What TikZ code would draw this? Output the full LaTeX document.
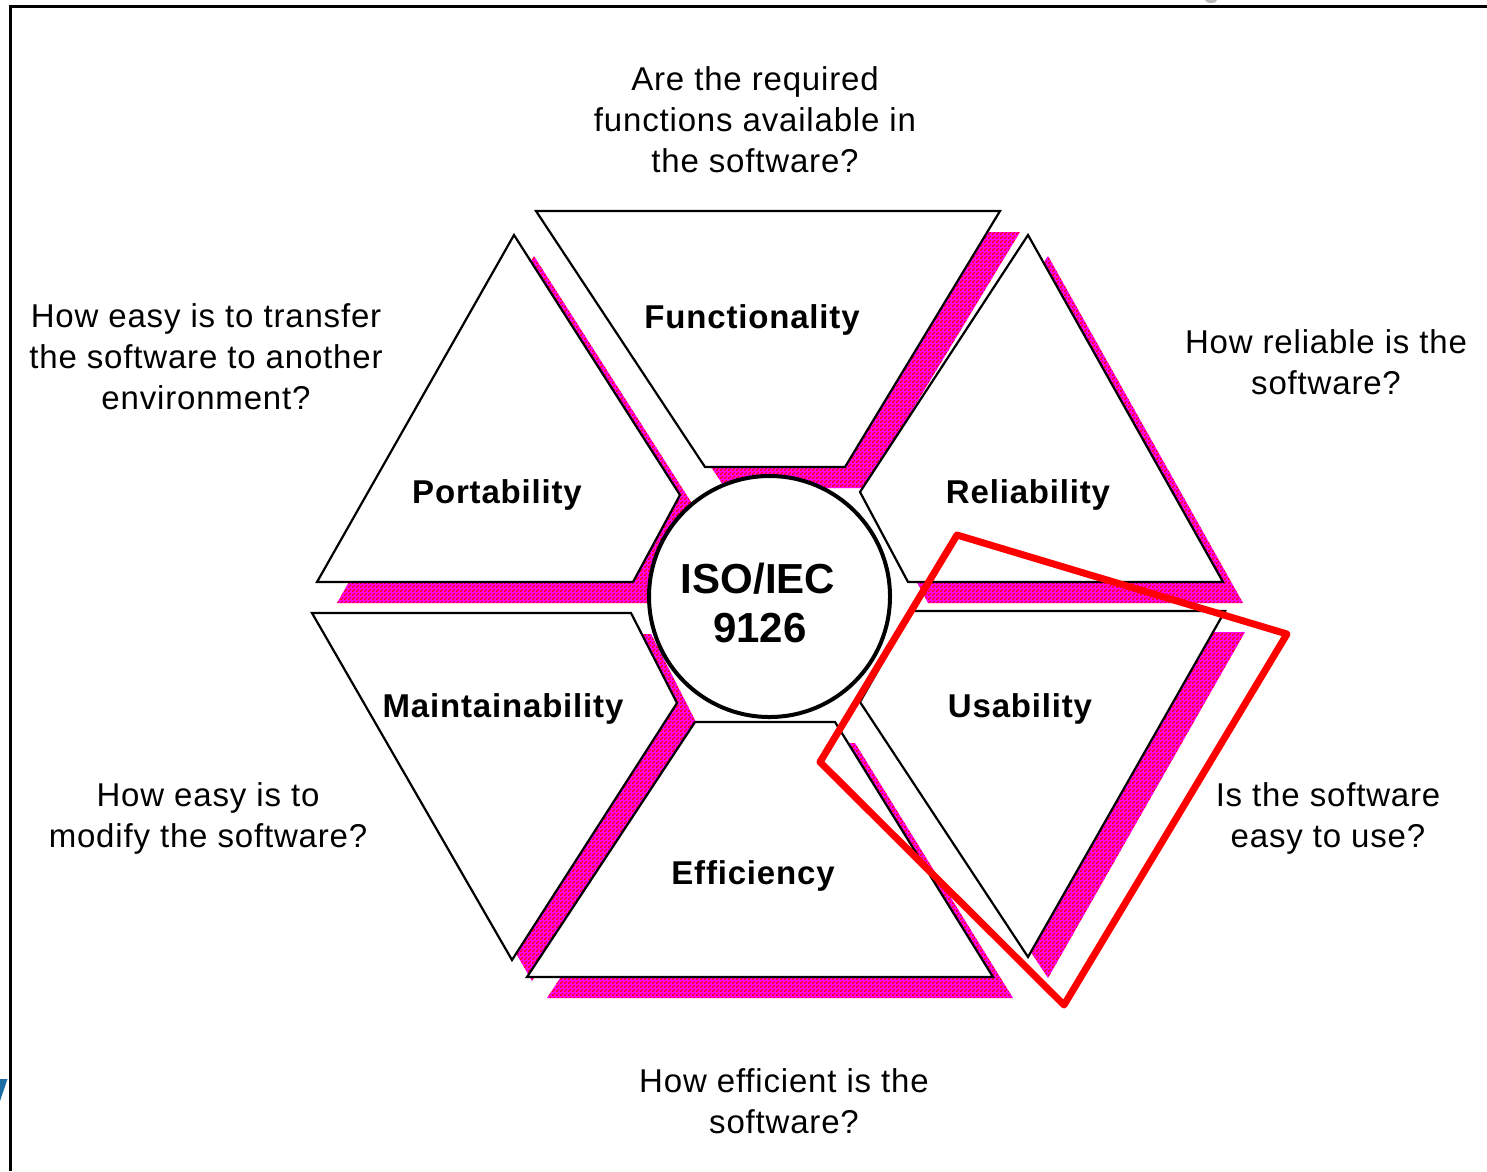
\documentclass[tikz,border=0pt]{standalone}
\usepackage{fontspec}
\setmainfont{Liberation Sans}
\usetikzlibrary{patterns}
\definecolor{shmag}{RGB}{255,0,255}
\definecolor{shred}{RGB}{255,0,0}
\definecolor{hlred}{RGB}{255,0,0}
\definecolor{logoblue}{RGB}{28,110,165}
\newcommand\hexpiece[2]{\path[#1] #2;}
\pgfdeclarepatternformonly{checkers}{\pgfpointorigin}{\pgfpoint{4pt}{4pt}}{\pgfpoint{4pt}{4pt}}{%
  \pgfpathrectangle{\pgfpoint{0pt}{0pt}}{\pgfpoint{2pt}{2pt}}%
  \pgfpathrectangle{\pgfpoint{2pt}{2pt}}{\pgfpoint{2pt}{2pt}}%
  \pgfusepath{fill}}
\begin{document}
\begin{tikzpicture}[x=1pt,y=-1pt,
  shadowfill/.style={fill=shmag, postaction={pattern=checkers, pattern color=shred}},
  piecebox/.style={fill=white, draw=black, line width=2.2pt, line join=miter},
  question/.style={font=\addfontfeature{LetterSpace=2.5}\fontsize{33}{41}\selectfont, align=center, inner sep=0pt},
  catlabel/.style={font=\bfseries\addfontfeature{LetterSpace=2.5}\fontsize{33}{40}\selectfont, inner sep=0pt, anchor=base},
  isotext/.style={font=\bfseries\fontsize{42}{49}\selectfont, inner sep=0pt, anchor=base},
  framerule/.style={line width=3pt, draw=black},
  highlight/.style={draw=hlred, line width=7pt, line join=round}
]
\useasboundingbox (0,0) rectangle (1487,1171);
\fill[white] (0,0) rectangle (1487,1171);

% frame
\draw[framerule] (9,6) -- (1487,6);
\draw[framerule] (10.5,4.5) -- (10.5,1171);
\fill[logoblue] (0,1079) -- (7.5,1079) -- (0,1101) -- cycle;
\fill[gray!55] (1211,0) ellipse (6 and 3);

% shadows
\begin{scope}[shift={(20,21)}]
\hexpiece{shadowfill}{(536,211) -- (1000,211) -- (845,467) -- (705,467) -- cycle}
\hexpiece{shadowfill}{(514,235) -- (680,495) -- (633,582) -- (317,582) -- cycle}
\hexpiece{shadowfill}{(1028,235) -- (1223,582) -- (908,582) -- (860,492) -- cycle}
\hexpiece{shadowfill}{(312,613) -- (631,613) -- (677,703) -- (512,960) -- cycle}
\hexpiece{shadowfill}{(912,611) -- (1225,611) -- (1028,957) -- (860,702) -- cycle}
\hexpiece{shadowfill}{(695,722) -- (835,722) -- (993,977) -- (527,977) -- cycle}
\end{scope}

% pieces
\hexpiece{piecebox}{(536,211) -- (1000,211) -- (845,467) -- (705,467) -- cycle}
\hexpiece{piecebox}{(514,235) -- (680,495) -- (633,582) -- (317,582) -- cycle}
\hexpiece{piecebox}{(1028,235) -- (1223,582) -- (908,582) -- (860,492) -- cycle}
\hexpiece{piecebox}{(312,613) -- (631,613) -- (677,703) -- (512,960) -- cycle}
\hexpiece{piecebox}{(912,611) -- (1225,611) -- (1028,957) -- (860,702) -- cycle}
\hexpiece{piecebox}{(695,722) -- (835,722) -- (993,977) -- (527,977) -- cycle}

% centre circle
\node[circle, draw=black, line width=4pt, fill=white, minimum size=241pt, inner sep=0pt] (iso) at (769.5,596.5) {};
\node[isotext] (isoA) at (758,593) {ISO/IEC};
\node[isotext] (isoB) at (760,642) {9126};

% category labels
\node[catlabel] (func) at (752,328) {Functionality};
\node[catlabel] (port) at (497,503) {Portability};
\node[catlabel] (rel) at (1028,503) {Reliability};
\node[catlabel] (maint) at (503,717) {Maintainability};
\node[catlabel] (usab) at (1020,717) {Usability};
\node[catlabel] (eff) at (753,884) {Efficiency};

% questions
\node[question] (qfunc) at (755,120) {Are the required\\functions available in\\the software?};
\node[question] (qport) at (206,357) {How easy is to transfer\\the software to another\\environment?};
\node[question] (qrel) at (1326,362) {How reliable is the\\software?};
\node[question] (qmaint) at (208,818) {How easy is to\\modify the software?};
\node[question] (qusab) at (1328,818) {Is the software\\easy to use?};
\node[question] (qeff) at (784,1101) {How efficient is the\\software?};

% highlight
\draw[highlight] (957,535) -- (1287,634) -- (1064,1005) -- (820,762) -- cycle;
\end{tikzpicture}
\end{document}
